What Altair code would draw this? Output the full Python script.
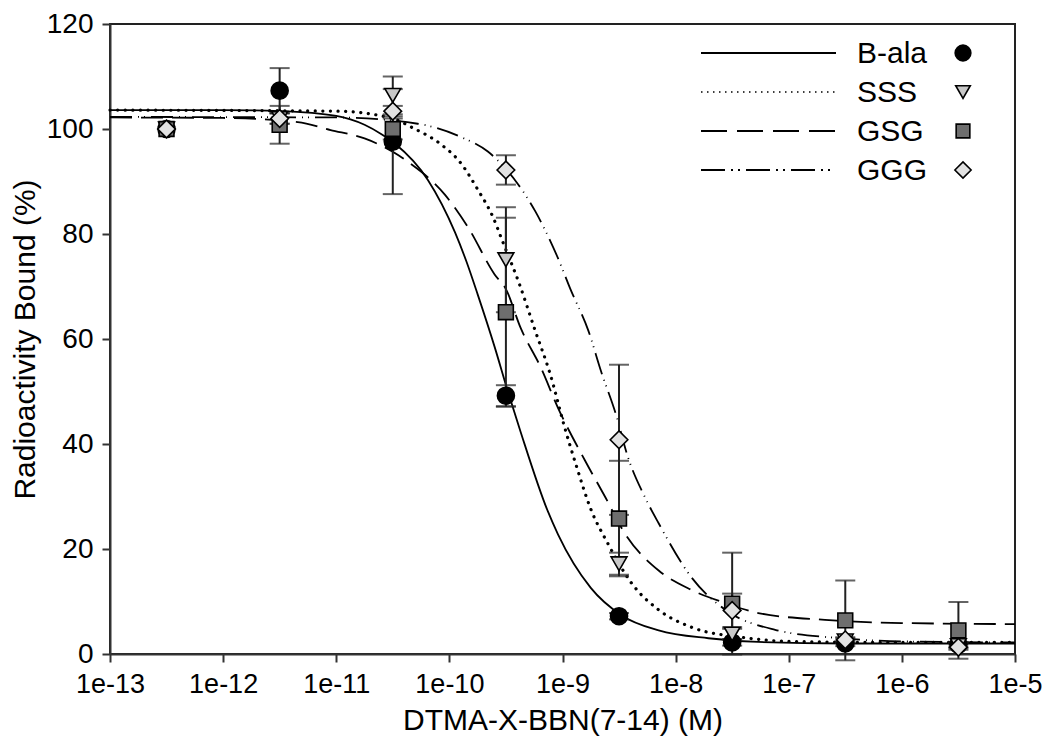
import altair as alt
import pandas as pd

series = ["B-ala", "SSS", "GSG", "GGG"]
conc = [3.16e-13, 3.16e-12, 3.16e-11, 3.16e-10, 3.16e-9, 3.16e-8, 3.16e-7, 3.16e-6]

bala_mean = [100, 107.3, 97.6, 49.2, 7.2, 2.2, 2.0, 1.8]
bala_err = [0, 4.3, 10.0, 2.0, 0.6, 0.6, 0.5, 0.5]
sss_mean = [100, 102.0, 106.4, 75.1, 17.2, 3.8, 2.5, 1.6]
sss_err = [0, 1.0, 3.6, 10.0, 2.1, 1.0, 0.5, 0.5]
gsg_mean = [100, 100.8, 100.0, 65.1, 25.8, 9.6, 6.4, 4.5]
gsg_err = [0, 3.6, 2.0, 18.0, 11.0, 9.7, 7.6, 5.4]
ggg_mean = [100, 102.0, 103.4, 92.2, 40.8, 8.3, 2.7, 1.3]
ggg_err = [0, 1.0, 1.0, 2.8, 14.3, 3.2, 0.5, 0.5]

# fitted curves (log10 concentration, % bound)
bala_curve_logx = [-13, -12, -11.5, -11, -10.75, -10.6, -10.48, -10.19, -9.95, -9.85, -9.75, -9.6, -9.48,
                   -9.37, -9.13, -9.04, -8.75, -8.48, -8.15, -7.71, -7.27, -6.5, -5]
bala_curve_y = [103.6, 103.6, 103.4, 102.5, 100.8, 99.0, 97.2, 90.3, 80.3, 74.8, 68.5, 58.5, 49.8,
                42.3, 27.2, 22.8, 12.6, 7.4, 4.5, 3.0, 2.3, 2.0, 2.0]
sss_curve_logx = [-13, -11, -10.5, -10.34, -10.07, -9.91, -9.75, -9.61, -9.53, -9.39, -9.24,
                  -9.11, -8.98, -8.88, -8.75, -8.6, -8.39, -8.15, -7.86, -7.42, -7, -6, -5]
sss_curve_y = [103.6, 103.4, 102.0, 100.4, 97.0, 93.8, 88.5, 83.0, 78.6, 71.0, 61.5,
               53.4, 43.1, 36.0, 27.6, 21.1, 13.5, 8.4, 5.1, 3.2, 2.4, 2.2, 2.2]
gsg_curve_logx = [-13, -12, -11.34, -11.05, -10.75, -10.45, -10.37, -10.04, -9.83, -9.6, -9.5,
                  -9.37, -9.19, -9.04, -8.8, -8.62, -8.45, -8.15, -7.86, -7.56, -7.27, -6.68, -6, -5]
gsg_curve_y = [102.2, 102.1, 101.3, 99.8, 98.2, 95.0, 93.8, 87.5, 81.1, 72.3, 69.5,
               62.1, 54.5, 46.9, 36.8, 29.8, 23.0, 15.9, 12.2, 9.7, 7.8, 6.5, 5.9, 5.7]
ggg_curve_logx = [-13, -11, -10.28, -9.9, -9.66, -9.39, -9.24, -9.04, -8.93, -8.77, -8.66,
                  -8.53, -8.42, -8.27, -8.15, -7.86, -7.56, -7.12, -6.54, -6, -5]
ggg_curve_y = [102.3, 102.2, 101.0, 98.5, 95.7, 89.4, 84.3, 75.4, 69.5, 61.5, 53.9,
               45.8, 37.4, 29.8, 24.9, 14.6, 8.4, 4.6, 3.0, 2.4, 2.2]

x_ticks = [1e-13, 1e-12, 1e-11, 1e-10, 1e-9, 1e-8, 1e-7, 1e-6, 1e-5]
x_tick_labels = ["1e-13", "1e-12", "1e-11", "1e-10", "1e-9", "1e-8", "1e-7", "1e-6", "1e-5"]
y_ticks = [0, 20, 40, 60, 80, 100, 120]

means = {"B-ala": bala_mean, "SSS": sss_mean, "GSG": gsg_mean, "GGG": ggg_mean}
errs = {"B-ala": bala_err, "SSS": sss_err, "GSG": gsg_err, "GGG": ggg_err}
curves = {
    "B-ala": (bala_curve_logx, bala_curve_y),
    "SSS": (sss_curve_logx, sss_curve_y),
    "GSG": (gsg_curve_logx, gsg_curve_y),
    "GGG": (ggg_curve_logx, ggg_curve_y),
}

styles = {
    "B-ala": dict(line=dict(strokeWidth=1.8), shape="circle", fill="#000000", size=290),
    "SSS": dict(line=dict(strokeWidth=3.2, strokeDash=[0.1, 7.5], strokeCap="round"),
                shape="triangle-down", fill="#c8c8c8", size=250),
    "GSG": dict(line=dict(strokeWidth=1.8, strokeDash=[22, 9]), shape="square", fill="#6e6e6e", size=220),
    "GGG": dict(line=dict(strokeWidth=1.8, strokeDash=[22, 6, 1, 5, 1, 6]),
                shape="diamond", fill="#e2e2e2", size=310),
}
legend_line_styles = {
    "B-ala": dict(strokeWidth=1.8),
    "SSS": dict(strokeWidth=1.6, strokeDash=[1.5, 4.5]),
    "GSG": dict(strokeWidth=2.2, strokeDash=[26, 10]),
    "GGG": dict(strokeWidth=2.2, strokeDash=[24, 6, 2, 5, 2, 6]),
}

W, H = 905, 630
x_scale = alt.Scale(type="log", domain=[1e-13, 1e-5], nice=False)
y_scale = alt.Scale(domain=[0, 120], nice=False)
label_expr = "[" + ",".join("'" + l + "'" for l in x_tick_labels) + "][round(log(datum.value)/LN10)+13]"

x_axis = alt.Axis(values=x_ticks, labelExpr=label_expr, title="DTMA-X-BBN(7-14) (M)",
                  labelPadding=9, titlePadding=8, labelFlush=False, labelOverlap=False,
                  labelFontSize=27)
y_axis = alt.Axis(values=y_ticks, title="Radioactivity Bound (%)", labelPadding=9, titlePadding=6)


def X(field):
    return alt.X(field, scale=x_scale, axis=x_axis)


def Y(field):
    return alt.Y(field, scale=y_scale, axis=y_axis)


layers = []
# curves
for s in series:
    lx, ly = curves[s]
    df = pd.DataFrame({"x": [10 ** v for v in lx], "y": ly})
    layers.append(alt.Chart(df).mark_line(color="black", interpolate="monotone",
                                          **styles[s]["line"]).encode(x=X("x:Q"), y=Y("y:Q")))

# error bars and caps
for s in series:
    df = pd.DataFrame({"x": conc, "m": means[s], "e": errs[s]})
    df["lo"] = df["m"] - df["e"]
    df["hi"] = df["m"] + df["e"]
    df = df[df["e"] > 0]
    base = alt.Chart(df)
    layers.append(base.mark_rule(color="#222222", strokeWidth=2).encode(
        x=X("x:Q"), y=Y("lo:Q"), y2="hi:Q"))
    for col in ["lo", "hi"]:
        layers.append(base.mark_tick(color="#222222", orient="horizontal", size=20, thickness=2).encode(
            x=X("x:Q"), y=Y(col + ":Q")))

# markers
for s in series:
    df = pd.DataFrame({"x": conc, "m": means[s]})
    st = styles[s]
    layers.append(alt.Chart(df).mark_point(shape=st["shape"], filled=True, fill=st["fill"],
                                           stroke="black", strokeWidth=1.6, size=st["size"],
                                           opacity=1).encode(x=X("x:Q"), y=Y("m:Q")))

# legend (inside plot, top right)
leg_df = pd.DataFrame({"series": series})
row_y = [29, 68, 107, 146]
for i, s in enumerate(series):
    d = leg_df[leg_df["series"] == s]
    layers.append(alt.Chart(d).mark_rule(color="black", **legend_line_styles[s]).encode(
        x=alt.value(591), x2=alt.value(726), y=alt.value(row_y[i])))
    layers.append(alt.Chart(d).mark_text(align="left", baseline="middle", fontSize=30,
                                         font="Liberation Sans", color="black").encode(
        x=alt.value(747), y=alt.value(row_y[i] + 1), text="series:N"))
    st = styles[s]
    layers.append(alt.Chart(d).mark_point(shape=st["shape"], filled=True, fill=st["fill"],
                                          stroke="black", strokeWidth=1.6,
                                          size=st["size"] * 0.85, opacity=1).encode(
        x=alt.value(853), y=alt.value(row_y[i])))

chart = alt.layer(*layers).properties(
    width=W, height=H,
    padding={"left": 102, "top": 16, "right": 27, "bottom": 87},
    autosize=alt.AutoSizeParams(type="none"),
).configure_view(stroke="#222222", strokeWidth=2).configure_axis(
    labelFont="Liberation Sans", titleFont="Liberation Sans",
    labelFontSize=28, titleFontSize=30, titleFontWeight="normal",
    labelColor="black", titleColor="black",
    domainColor="#333333", domainWidth=2, tickColor="#333333", tickWidth=2, tickSize=8,
    grid=False,
)

chart.save("out.html", embed_options={"renderer": "svg", "actions": False})
